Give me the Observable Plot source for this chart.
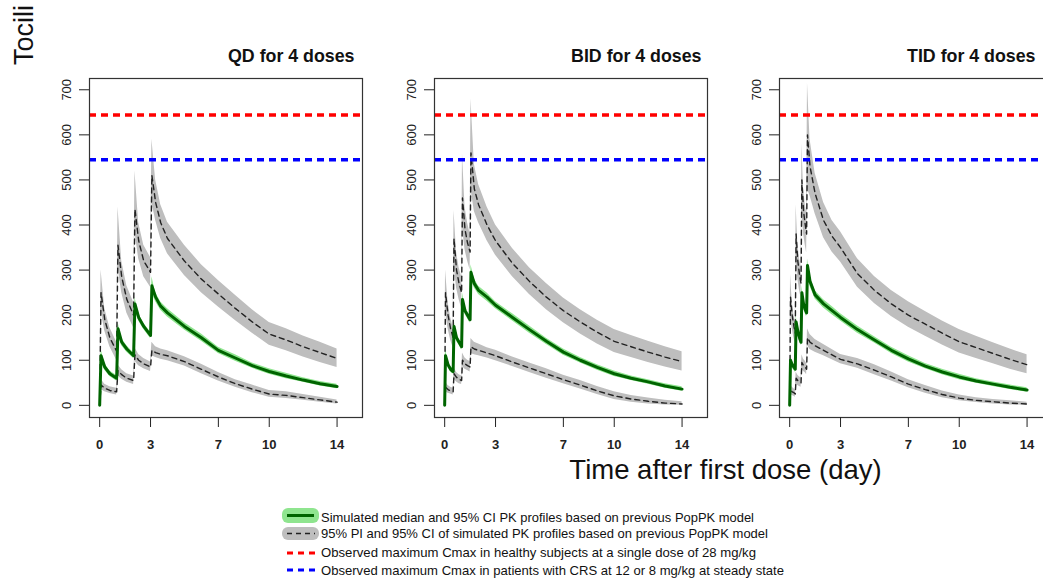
<!DOCTYPE html>
<html><head><meta charset="utf-8">
<script src="https://cdn.jsdelivr.net/npm/d3@7"></script>
<script src="https://cdn.jsdelivr.net/npm/@observablehq/plot@0.6"></script>
<style>
html,body{margin:0;padding:0;background:#fff;}
#root{position:relative;width:1043px;height:580px;overflow:hidden;background:#fff;font-family:"Liberation Sans",Arial,sans-serif;}
.panel{position:absolute;top:30px;}
#xlab{position:absolute;left:0;width:1451px;top:454px;text-align:center;font-size:27.5px;color:#111;white-space:nowrap;}
</style></head><body><div id="root"></div>
<script>
// ---------- data ----------
const panelTitles = ["QD for 4 doses", "BID for 4 doses", "TID for 4 doses"];
const xTicks = [0, 3, 7, 10, 14];
const yTicks = [0, 100, 200, 300, 400, 500, 600, 700];
const refValues = [644, 545]; // healthy Cmax (red), CRS patients Cmax (blue)
const xTitle = "Time after first dose (day)";
const yTitleVisible = "Tocili";
const legendLabels = [
  "Simulated median and 95% CI PK profiles based on previous PopPK model",
  "95% PI and 95% CI of simulated PK profiles based on previous PopPK model",
  "Observed maximum Cmax in healthy subjects at a single dose of 28 mg/kg",
  "Observed maximum Cmax in patients with CRS at 12 or 8 mg/kg at steady state"
];

// QD
const qdTime  = [0, 0.08, 0.3, 0.6, 1.0, 1.08, 1.3, 1.6, 2.0, 2.08, 2.3, 2.6, 3.0, 3.08, 3.3, 3.6, 4, 5, 6, 7, 8, 9, 10, 11, 12, 13, 14];
const qdMed   = [0, 110, 85, 70, 60, 170, 140, 125, 110, 225, 195, 175, 155, 265, 240, 220, 205, 175, 150, 122, 105, 88, 75, 65, 56, 48, 42];
const qdMedLo = [0, 95, 78, 64, 54, 155, 132, 118, 104, 210, 187, 168, 148, 250, 230, 211, 196, 167, 142, 115, 98, 82, 69, 59, 51, 43, 37];
const qdMedHi = [0, 125, 92, 76, 66, 185, 148, 132, 116, 240, 203, 182, 162, 285, 250, 229, 214, 183, 158, 129, 112, 94, 81, 71, 61, 53, 47];
const qdUpr   = [0, 250, 190, 150, 120, 355, 285, 235, 200, 435, 365, 320, 295, 510, 450, 405, 370, 320, 280, 247, 215, 185, 158, 145, 130, 117, 104];
const qdUprLo = [0, 210, 165, 130, 100, 305, 250, 205, 172, 385, 325, 285, 262, 450, 410, 370, 336, 288, 250, 218, 188, 160, 133, 121, 107, 95, 84];
const qdUprHi = [0, 300, 215, 172, 140, 440, 320, 265, 228, 520, 405, 355, 328, 590, 500, 445, 406, 355, 312, 277, 244, 212, 184, 170, 154, 140, 125];
const qdLwr   = [0, 45, 38, 33, 30, 77, 68, 60, 55, 112, 100, 92, 85, 122, 117, 113, 110, 97, 80, 63, 48, 36, 25, 22, 17, 12, 7];
const qdLwrLo = [0, 35, 30, 26, 23, 65, 58, 51, 46, 98, 88, 81, 75, 110, 106, 102, 99, 87, 70, 54, 40, 28, 18, 15, 11, 7, 3];
const qdLwrHi = [0, 58, 47, 41, 38, 90, 79, 70, 65, 128, 113, 104, 96, 140, 130, 125, 121, 108, 91, 73, 57, 45, 33, 30, 24, 18, 12];

// BID
const bidTime  = [0, 0.05, 0.2, 0.35, 0.5, 0.55, 0.7, 0.85, 1.0, 1.05, 1.2, 1.35, 1.5, 1.55, 1.75, 2, 2.5, 3, 4, 5, 6, 7, 8, 9, 10, 11, 12, 13, 14];
const bidMed   = [0, 110, 90, 80, 75, 175, 150, 140, 130, 235, 210, 200, 190, 295, 270, 255, 240, 222, 195, 168, 142, 118, 100, 84, 70, 60, 52, 43, 36];
const bidMedLo = [0, 95, 83, 74, 69, 160, 142, 133, 123, 220, 202, 192, 182, 278, 260, 246, 231, 214, 187, 160, 135, 111, 94, 78, 64, 55, 47, 38, 31];
const bidMedHi = [0, 125, 97, 86, 81, 190, 158, 147, 137, 250, 218, 208, 198, 312, 280, 264, 249, 230, 203, 176, 149, 125, 106, 90, 76, 65, 57, 48, 41];
const bidUpr   = [0, 250, 200, 170, 150, 370, 300, 270, 250, 460, 390, 360, 340, 560, 480, 445, 400, 365, 315, 275, 240, 210, 185, 162, 142, 130, 118, 107, 97];
const bidUprLo = [0, 205, 170, 145, 128, 310, 260, 235, 215, 395, 345, 320, 300, 480, 430, 405, 365, 333, 285, 246, 212, 183, 158, 136, 117, 106, 95, 85, 76];
const bidUprHi = [0, 300, 230, 195, 172, 432, 340, 305, 285, 558, 440, 405, 380, 680, 535, 490, 440, 400, 348, 305, 270, 238, 212, 189, 168, 155, 142, 130, 119];
const bidLwr   = [0, 40, 35, 32, 30, 70, 62, 58, 55, 100, 92, 88, 85, 130, 125, 122, 116, 110, 96, 83, 70, 57, 45, 32, 21, 14, 9, 5, 3];
const bidLwrLo = [0, 30, 27, 25, 23, 58, 52, 48, 46, 86, 80, 77, 74, 115, 112, 110, 105, 99, 86, 73, 60, 48, 36, 24, 13, 7, 3, 1, 0];
const bidLwrHi = [0, 52, 44, 40, 38, 84, 73, 68, 65, 116, 105, 100, 97, 148, 140, 136, 128, 122, 107, 94, 81, 67, 55, 42, 30, 22, 16, 11, 8];

// TID
const tidTime  = [0, 0.05, 0.15, 0.25, 0.33, 0.38, 0.48, 0.58, 0.67, 0.72, 0.82, 0.92, 1.0, 1.05, 1.2, 1.5, 2, 2.5, 3, 4, 5, 6, 7, 8, 9, 10, 11, 12, 13, 14];
const tidMed   = [0, 100, 90, 85, 80, 185, 165, 150, 140, 250, 225, 212, 205, 310, 275, 245, 225, 210, 195, 168, 145, 122, 103, 87, 74, 63, 54, 47, 40, 34];
const tidMedLo = [0, 85, 82, 78, 73, 170, 156, 142, 132, 234, 215, 203, 196, 292, 264, 236, 216, 201, 187, 160, 138, 115, 96, 81, 68, 57, 49, 42, 35, 29];
const tidMedHi = [0, 115, 98, 92, 87, 200, 174, 158, 148, 266, 235, 221, 214, 325, 286, 254, 234, 219, 203, 176, 152, 129, 110, 93, 80, 69, 59, 52, 45, 39];
const tidUpr   = [0, 240, 200, 175, 160, 380, 320, 290, 270, 500, 430, 400, 380, 600, 530, 470, 410, 375, 350, 292, 255, 225, 200, 180, 160, 141, 128, 115, 102, 90];
const tidUprLo = [0, 195, 170, 150, 138, 320, 280, 255, 238, 430, 380, 355, 338, 480, 465, 425, 372, 340, 318, 262, 226, 197, 173, 153, 134, 116, 104, 92, 80, 70];
const tidUprHi = [0, 290, 230, 200, 185, 445, 360, 325, 305, 580, 480, 445, 425, 715, 590, 515, 450, 410, 385, 325, 286, 255, 230, 208, 187, 168, 153, 139, 125, 112];
const tidLwr   = [0, 35, 30, 28, 25, 60, 55, 52, 50, 95, 88, 85, 80, 150, 140, 132, 122, 112, 102, 92, 78, 63, 47, 35, 24, 16, 11, 8, 5, 3];
const tidLwrLo = [0, 25, 22, 20, 18, 48, 44, 42, 40, 80, 75, 72, 68, 132, 124, 118, 110, 101, 92, 82, 68, 54, 39, 27, 17, 10, 6, 3, 1, 0];
const tidLwrHi = [0, 47, 40, 37, 34, 74, 67, 63, 61, 112, 102, 98, 93, 170, 157, 146, 135, 124, 113, 104, 90, 74, 57, 44, 32, 23, 17, 13, 10, 7];

// ---------- build ----------
function toRows(t, med, medLo, medHi, upr, uprLo, uprHi, lwr, lwrLo, lwrHi) {
  return t.map((x, i) => ({t: x, med: med[i], medLo: medLo[i], medHi: medHi[i],
    upr: upr[i], uprLo: uprLo[i], uprHi: uprHi[i], lwr: lwr[i], lwrLo: lwrLo[i], lwrHi: lwrHi[i]}));
}
const panels = [
  toRows(qdTime, qdMed, qdMedLo, qdMedHi, qdUpr, qdUprLo, qdUprHi, qdLwr, qdLwrLo, qdLwrHi),
  toRows(bidTime, bidMed, bidMedLo, bidMedHi, bidUpr, bidUprLo, bidUprHi, bidLwr, bidLwrLo, bidLwrHi),
  toRows(tidTime, tidMed, tidMedLo, tidMedHi, tidUpr, tidUprLo, tidUprHi, tidLwr, tidLwrLo, tidLwrHi)
];

const root = document.getElementById("root");
const refColors = ["#FF0000", "#0000FF"];
const boxLefts = [89, 434, 779];
const titleDx = [-8, -6, -17];
const mL = 45, mR = 6, mT = 48, mB = 45, boxW = 273, boxH = 339;

panels.forEach((rows, i) => {
  const plot = Plot.plot({
    width: mL + boxW + mR,
    height: mT + boxH + mB,
    marginLeft: mL, marginRight: mR, marginTop: mT, marginBottom: mB,
    style: {background: "transparent", color: "#222", fontFamily: "'Liberation Sans', Arial, sans-serif", overflow: "visible"},
    x: {domain: [-0.6, 15.5]},
    y: {domain: [-27, 725]},
    marks: [
      Plot.areaY(rows, {x: "t", y1: "uprLo", y2: "uprHi", fill: "#BEBEBE"}),
      Plot.areaY(rows, {x: "t", y1: "lwrLo", y2: "lwrHi", fill: "#BEBEBE"}),
      Plot.areaY(rows, {x: "t", y1: "medLo", y2: "medHi", fill: "#8FE58F"}),
      Plot.lineY(rows, {x: "t", y: "upr", stroke: "#222", strokeWidth: 1.4, strokeDasharray: "5,4"}),
      Plot.lineY(rows, {x: "t", y: "lwr", stroke: "#222", strokeWidth: 1.4, strokeDasharray: "5,4"}),
      Plot.lineY(rows, {x: "t", y: "med", stroke: "#006400", strokeWidth: 3}),
      Plot.ruleY(refValues, {y: d => d, stroke: (d, j) => refColors[j], strokeWidth: 3.5, strokeDasharray: "7,5"}),
      Plot.frame({stroke: "#333", strokeWidth: 1.2}),
      Plot.axisX({ticks: xTicks, tickSize: 10, tickPadding: 12, fontSize: 13, fontWeight: "bold", label: null}),
      Plot.axisY({ticks: yTicks, tickSize: 10, tickPadding: 9, tickRotate: -90, fontSize: 13, label: null}),
      Plot.text([panelTitles[i]], {frameAnchor: "top-right", dx: titleDx[i], dy: -22, textAnchor: "end", lineAnchor: "middle", fontWeight: "bold", fontSize: 17.8, fill: "#111"})
    ]
  });
  const div = document.createElement("div");
  div.className = "panel";
  div.style.left = (boxLefts[i] - mL) + "px";
  div.style.width = (mL + boxW + mR) + "px";
  div.appendChild(plot);
  root.appendChild(div);
});

// x title
const xl = document.createElement("div");
xl.id = "xlab";
xl.textContent = xTitle;
root.appendChild(xl);

// y title (visible part) + legend
const ns = "http://www.w3.org/2000/svg";
const over = document.createElementNS(ns, "svg");
over.setAttribute("width", 1043); over.setAttribute("height", 580);
over.style.position = "absolute"; over.style.left = "0"; over.style.top = "0";
over.style.pointerEvents = "none";
over.style.fontFamily = "'Liberation Sans', Arial, sans-serif";
const yt = document.createElementNS(ns, "text");
yt.setAttribute("transform", "translate(33,65) rotate(-90)");
yt.setAttribute("font-size", "27"); yt.setAttribute("fill", "#111");
yt.textContent = yTitleVisible;
over.appendChild(yt);

const rowY = [518.5, 534, 553.5, 571.5];
const textW = [433, 447, 435, 463];
function el(tag, attrs) { const e = document.createElementNS(ns, tag); for (const k in attrs) e.setAttribute(k, attrs[k]); over.appendChild(e); return e; }
el("rect", {x: 282, y: 508, width: 37, height: 15, rx: 6, fill: "#8FE58F"});
el("line", {x1: 287, x2: 314, y1: 515.5, y2: 515.5, stroke: "#006400", "stroke-width": 3});
el("rect", {x: 282, y: 527, width: 37, height: 13, rx: 6, fill: "#BEBEBE"});
el("line", {x1: 287, x2: 315, y1: 533.5, y2: 533.5, stroke: "#222", "stroke-width": 1.4, "stroke-dasharray": "5,4"});
el("line", {x1: 287, x2: 316, y1: 553, y2: 553, stroke: "#FF0000", "stroke-width": 3, "stroke-dasharray": "6,5"});
el("line", {x1: 287, x2: 316, y1: 570, y2: 570, stroke: "#0000FF", "stroke-width": 3, "stroke-dasharray": "6,5"});
legendLabels.forEach((s, i) => {
  const t = el("text", {x: 321, y: rowY[i], "font-size": 13.5, fill: "#111", "dominant-baseline": "middle", textLength: textW[i], lengthAdjust: "spacingAndGlyphs"});
  t.textContent = s;
});
root.appendChild(over);
</script></body></html>
